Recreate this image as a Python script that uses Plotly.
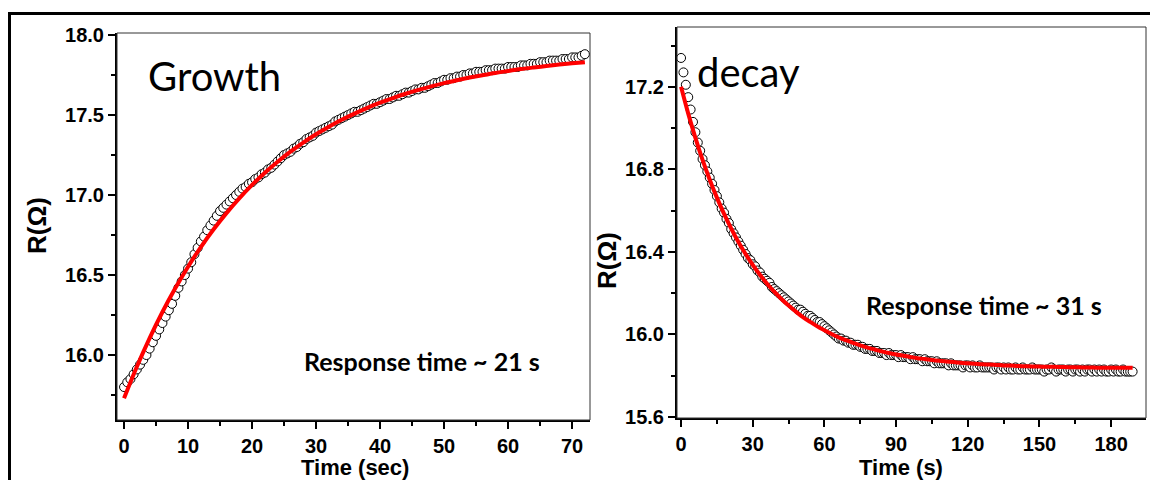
import plotly.graph_objects as go

# ---------------- data ----------------
growth_dt = 0.5
growth_r = [
    15.80, 15.83, 15.85, 15.88, 15.91, 15.94, 15.97, 16.00, 16.04, 16.08,
    16.12, 16.16, 16.20, 16.24, 16.28, 16.32, 16.37, 16.42, 16.46, 16.50,
    16.54, 16.58, 16.63, 16.67, 16.71, 16.74, 16.78, 16.81, 16.84, 16.87,
    16.90, 16.92, 16.94, 16.96, 16.98, 17.00, 17.02, 17.04, 17.05, 17.07,
    17.08, 17.10, 17.11, 17.13, 17.14, 17.16, 17.17, 17.19, 17.21, 17.23,
    17.25, 17.26, 17.27, 17.29, 17.30, 17.32, 17.33, 17.35, 17.36, 17.37,
    17.39, 17.40, 17.41, 17.42, 17.43, 17.44, 17.46, 17.47, 17.48, 17.49,
    17.50, 17.51, 17.52, 17.52, 17.53, 17.54, 17.55, 17.56, 17.57, 17.57,
    17.58, 17.59, 17.60, 17.60, 17.61, 17.62, 17.62, 17.63, 17.64, 17.64,
    17.65, 17.66, 17.66, 17.67, 17.67, 17.68, 17.69, 17.70, 17.70, 17.71,
    17.72, 17.72, 17.73, 17.73, 17.74, 17.74, 17.75, 17.75, 17.76, 17.76,
    17.77, 17.77, 17.77, 17.78, 17.78, 17.78, 17.79, 17.79, 17.79, 17.79,
    17.80, 17.80, 17.80, 17.80, 17.81, 17.81, 17.81, 17.82, 17.82, 17.82,
    17.83, 17.83, 17.83, 17.84, 17.84, 17.84, 17.84, 17.85, 17.85, 17.85,
    17.86, 17.86, 17.86, 17.87, 17.88,
]
growth_fit_dt = 2
growth_fit = [
    15.730, 15.927, 16.106, 16.269, 16.417, 16.552, 16.675, 16.786, 16.887, 16.979,
    17.063, 17.139, 17.208, 17.271, 17.328, 17.380, 17.427, 17.470, 17.509, 17.545,
    17.577, 17.606, 17.633, 17.657, 17.679, 17.699, 17.717, 17.734, 17.749, 17.763,
    17.775, 17.787, 17.797, 17.806, 17.815, 17.823, 17.830,
]

decay_dt = 1
decay_r = [
    17.34, 17.27, 17.21, 17.15, 17.09, 17.03, 16.98, 16.93, 16.89, 16.85,
    16.82, 16.79, 16.76, 16.73, 16.70, 16.67, 16.64, 16.61, 16.59, 16.56,
    16.54, 16.51, 16.49, 16.47, 16.45, 16.43, 16.41, 16.39, 16.37, 16.36,
    16.34, 16.33, 16.31, 16.30, 16.28, 16.27, 16.26, 16.25, 16.23, 16.22,
    16.21, 16.20, 16.19, 16.18, 16.17, 16.16, 16.15, 16.14, 16.13, 16.12,
    16.12, 16.11, 16.10, 16.09, 16.09, 16.08, 16.07, 16.06, 16.06, 16.05,
    16.04, 16.03, 16.02, 16.01, 16.00, 15.99, 15.98, 15.98, 15.97, 15.97,
    15.96, 15.96, 15.95, 15.95, 15.95, 15.94, 15.94, 15.93, 15.93, 15.93,
    15.92, 15.92, 15.92, 15.91, 15.91, 15.91, 15.90, 15.91, 15.90, 15.90,
    15.90, 15.89, 15.90, 15.89, 15.89, 15.89, 15.88, 15.89, 15.88, 15.88,
    15.88, 15.87, 15.88, 15.87, 15.87, 15.87, 15.86, 15.87, 15.86, 15.86,
    15.86, 15.86, 15.85, 15.86, 15.85, 15.85, 15.85, 15.85, 15.84, 15.85,
    15.85, 15.84, 15.85, 15.84, 15.84, 15.85, 15.84, 15.84, 15.84, 15.84,
    15.84, 15.83, 15.84, 15.84, 15.83, 15.84, 15.83, 15.84, 15.83, 15.83,
    15.84, 15.83, 15.83, 15.84, 15.83, 15.83, 15.83, 15.84, 15.83, 15.83,
    15.83, 15.83, 15.82, 15.83, 15.83, 15.84, 15.83, 15.82, 15.83, 15.83,
    15.83, 15.82, 15.83, 15.83, 15.82, 15.83, 15.83, 15.82, 15.83, 15.82,
    15.83, 15.83, 15.82, 15.83, 15.82, 15.83, 15.82, 15.83, 15.82, 15.82,
    15.83, 15.82, 15.83, 15.82, 15.82, 15.83, 15.82, 15.82, 15.82, 15.82,
]
decay_fit_dt = 3
decay_fit = [
    17.200, 17.070, 16.953, 16.846, 16.750, 16.663, 16.584, 16.513, 16.448, 16.390,
    16.337, 16.289, 16.246, 16.207, 16.172, 16.140, 16.111, 16.084, 16.061, 16.039,
    16.020, 16.002, 15.986, 15.972, 15.959, 15.947, 15.936, 15.927, 15.918, 15.910,
    15.903, 15.897, 15.891, 15.885, 15.881, 15.876, 15.872, 15.869, 15.866, 15.863,
    15.860, 15.858, 15.855, 15.854, 15.852, 15.850, 15.849, 15.847, 15.846, 15.845,
    15.844, 15.843, 15.843, 15.842, 15.841, 15.841, 15.840, 15.840, 15.839, 15.839,
    15.838, 15.838, 15.838, 15.838,
]

growth_t = [i * growth_dt for i in range(len(growth_r))]
growth_fit_t = [i * growth_fit_dt for i in range(len(growth_fit))]
decay_t = [i * decay_dt for i in range(len(decay_r))]
decay_fit_t = [i * decay_fit_dt for i in range(len(decay_fit))]

# ---------------- figure ----------------
W, H = 1150, 480


def px(x):
    return x / W


def py(y):
    return 1 - y / H


marker = dict(symbol="circle", size=9, color="white", line=dict(color="black", width=1))
red_line = dict(color="#ff0000", width=4, shape="spline")

fig = go.Figure()
fig.add_trace(go.Scatter(x=growth_t, y=growth_r, mode="markers", marker=marker,
                         xaxis="x", yaxis="y", showlegend=False, cliponaxis=False))
fig.add_trace(go.Scatter(x=growth_fit_t, y=growth_fit, mode="lines", line=red_line,
                         xaxis="x", yaxis="y", showlegend=False))
fig.add_trace(go.Scatter(x=decay_t, y=decay_r, mode="markers", marker=marker,
                         xaxis="x2", yaxis="y2", showlegend=False, cliponaxis=False))
fig.add_trace(go.Scatter(x=decay_fit_t, y=decay_fit, mode="lines", line=red_line,
                         xaxis="x2", yaxis="y2", showlegend=False))

tickfont = dict(family="Liberation Sans, Arial", size=20, color="black", weight="bold")
minor_common = dict(ticks="outside", ticklen=4, tickcolor="black", tickwidth=1.5)
axcommon = dict(showgrid=False, zeroline=False, showline=True, linecolor="black",
                linewidth=2, ticks="outside", ticklen=7, tickwidth=1.5, tickcolor="black",
                tickfont=tickfont, mirror=False, automargin=False)

fig.update_layout(
    width=W, height=H, autosize=False,
    margin=dict(l=0, r=0, t=0, b=0, pad=0),
    paper_bgcolor="white", plot_bgcolor="white",
    xaxis=dict(domain=[px(117), px(590)], range=[-1.1, 72.8], anchor="y",
               dtick=10, tick0=0, minor=dict(dtick=5, **minor_common), **axcommon),
    yaxis=dict(domain=[py(420), py(33)], range=[15.594, 18.0125], anchor="x",
               dtick=0.5, tick0=16.0, tickformat=".1f",
               minor=dict(dtick=0.25, **minor_common), **axcommon),
    xaxis2=dict(domain=[px(677), px(1146)], range=[-1.7, 194.6], anchor="y2",
                dtick=30, tick0=0, minor=dict(dtick=15, **minor_common), **axcommon),
    yaxis2=dict(domain=[py(418), py(27)], range=[15.595, 17.49], anchor="x2",
                dtick=0.4, tick0=15.6, tickformat=".1f",
                minor=dict(dtick=0.2, **minor_common), **axcommon),
)

shapes = [
    dict(type="rect", xref="paper", yref="paper", x0=px(9.5), x1=px(1170), y0=py(520), y1=py(13.5),
         line=dict(color="black", width=3), layer="below"),
    dict(type="rect", xref="x domain", yref="y domain", x0=0, x1=1, y0=0, y1=1,
         line=dict(color="#333333", width=1)),
    dict(type="rect", xref="x2 domain", yref="y2 domain", x0=0, x1=1, y0=0, y1=1,
         line=dict(color="#333333", width=1)),
]
fig.update_layout(shapes=shapes)

title_font = dict(family="Liberation Sans, Arial", size=22, color="black", weight="bold")
ylab_font = dict(family="Liberation Sans, Arial", size=26, color="black", weight="bold")
label_font = dict(family="Lato, Open Sans", size=40, color="black")
resp_font = dict(family="Lato, Open Sans", size=25, color="black", weight="bold")

annotations = [
    dict(text="Time (sec)", x=px(355), y=py(467), xref="paper", yref="paper",
         showarrow=False, font=title_font, xanchor="center", yanchor="middle"),
    dict(text="Time (s)", x=px(901), y=py(467), xref="paper", yref="paper",
         showarrow=False, font=title_font, xanchor="center", yanchor="middle"),
    dict(text="R(Ω)", x=px(37), y=py(226), xref="paper", yref="paper", textangle=-90,
         showarrow=False, font=ylab_font, xanchor="center", yanchor="middle"),
    dict(text="R(Ω)", x=px(607), y=py(261), xref="paper", yref="paper", textangle=-90,
         showarrow=False, font=ylab_font, xanchor="center", yanchor="middle"),
    dict(text="Growth", x=px(146), y=py(76), xref="paper", yref="paper",
         showarrow=False, font=label_font, xanchor="left", yanchor="middle"),
    dict(text="decay", x=px(695), y=py(72), xref="paper", yref="paper",
         showarrow=False, font=label_font, xanchor="left", yanchor="middle"),
    dict(text="Response time ~ 21 s", x=px(302), y=py(361), xref="paper", yref="paper",
         showarrow=False, font=resp_font, xanchor="left", yanchor="middle"),
    dict(text="Response time ~ 31 s", x=px(864), y=py(305), xref="paper", yref="paper",
         showarrow=False, font=resp_font, xanchor="left", yanchor="middle"),
]
fig.update_layout(annotations=annotations)

fig.write_html(
    "out.html",
    config={"displayModeBar": False, "responsive": False},
    post_script="document.body.style.margin='0';document.body.style.padding='0';"
                "document.body.style.overflow='hidden';",
)
